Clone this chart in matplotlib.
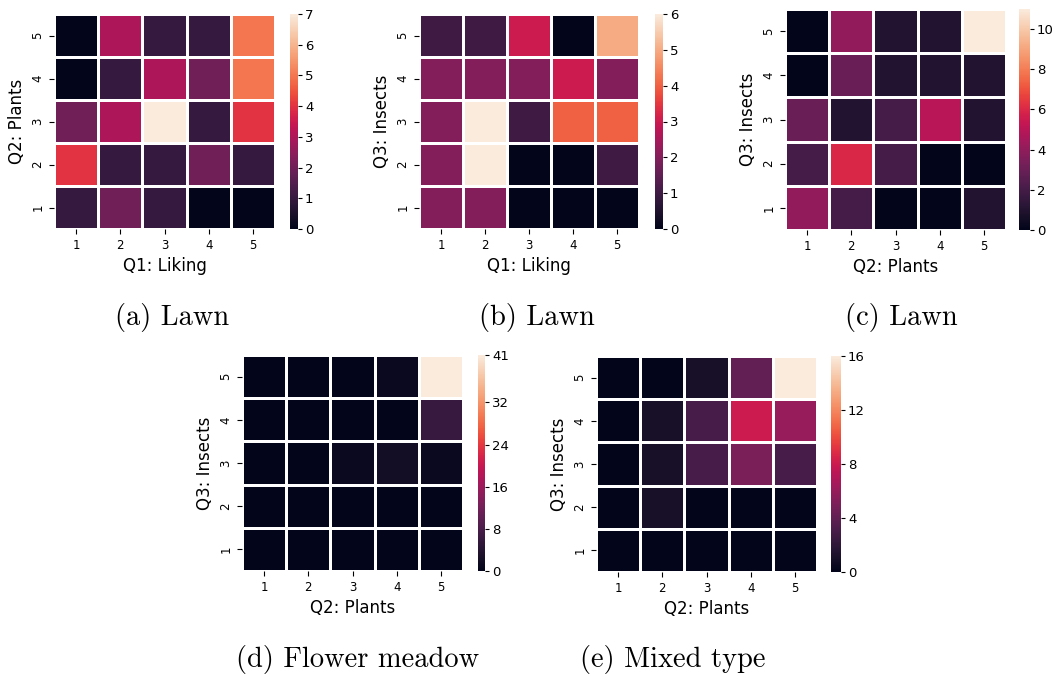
import numpy as np
import matplotlib
matplotlib.use('Agg')
import matplotlib.pyplot as plt
import seaborn as sns

ticks = [1, 2, 3, 4, 5]
rows = [5, 4, 3, 2, 1]  # top to bottom

# (a) Lawn: Q2 Plants vs Q1 Liking
lawn_plants_liking = [
    [0, 3, 1, 1, 5],
    [0, 1, 3, 2, 5],
    [2, 3, 7, 1, 4],
    [4, 1, 1, 2, 1],
    [1, 2, 1, 0, 0],
]
# (b) Lawn: Q3 Insects vs Q1 Liking
lawn_insects_liking = [
    [1, 1, 3, 0, 5],
    [2, 2, 2, 3, 2],
    [2, 6, 1, 4, 4],
    [2, 6, 0, 0, 1],
    [2, 2, 0, 0, 0],
]
# (c) Lawn: Q3 Insects vs Q2 Plants
lawn_insects_plants = [
    [0, 4, 1, 1, 11],
    [0, 3, 1, 1, 1],
    [3, 1, 2, 5, 1],
    [2, 6, 2, 0, 0],
    [4, 2, 0, 0, 1],
]
# (d) Flower meadow
meadow_insects_plants = [
    [0, 0, 0, 1, 41],
    [0, 0, 0, 0, 6],
    [0, 0, 1, 2, 1],
    [0, 0, 0, 0, 0],
    [0, 0, 0, 0, 0],
]
# (e) Mixed type
mixed_insects_plants = [
    [0, 0, 1, 4, 16],
    [0, 1, 3, 8, 6],
    [0, 1, 3, 5, 3],
    [0, 1, 0, 0, 0],
    [0, 0, 0, 0, 0],
]

W, H = 1054, 678
fig = plt.figure(figsize=(W / 100, H / 100), dpi=100)


def px_axes(x0, y0, x1, y1):
    return fig.add_axes([x0 / W, 1 - y1 / H, (x1 - x0) / W, (y1 - y0) / H])


panels = [
    # data, xlabel, ylabel, heatmap box, colorbar box, cbar ticks, caption, caption pos
    (lawn_plants_liking, 'Q1: Liking', 'Q2: Plants',
     (54, 14, 275, 229), (290, 14, 298, 229), [0, 1, 2, 3, 4, 5, 6, 7],
     '(a) Lawn', (172, 317)),
    (lawn_insects_liking, 'Q1: Liking', 'Q3: Insects',
     (419, 14, 639, 229), (655, 14, 663, 229), [0, 1, 2, 3, 4, 5, 6],
     '(b) Lawn', (537, 317)),
    (lawn_insects_plants, 'Q2: Plants', 'Q3: Insects',
     (785, 9, 1006, 230), (1019, 9, 1030, 230), [0, 2, 4, 6, 8, 10],
     '(c) Lawn', (901, 317)),
    (meadow_insects_plants, 'Q2: Plants', 'Q3: Insects',
     (242, 355, 463, 571), (478, 355, 485, 571), [0, 8, 16, 24, 32, 41],
     '(d) Flower meadow', (358, 659)),
    (mixed_insects_plants, 'Q2: Plants', 'Q3: Insects',
     (596, 356, 817, 572), (831, 356, 841, 572), [0, 4, 8, 12, 16],
     '(e) Mixed type', (673, 659)),
]

for data, xlab, ylab, box, cbox, cticks, caption, cpos in panels:
    ax = px_axes(*box)
    cax = px_axes(*cbox)
    arr = np.array(data)
    sns.heatmap(arr, ax=ax, cbar_ax=cax, cmap='rocket', linewidths=0.8,
                linecolor='white', xticklabels=ticks, yticklabels=rows,
                vmin=0, vmax=arr.max())
    ax.set_xlabel(xlab, fontsize=12)
    ax.set_ylabel(ylab, fontsize=12)
    ax.tick_params(labelsize=8.5)
    cax.set_yticks(cticks)
    cax.tick_params(labelsize=9.5, length=3, pad=2)
    fig.text(cpos[0] / W, 1 - cpos[1] / H, caption, family='cmr10',
             fontsize=20.5, ha='center', va='center')

fig.savefig('out.png', dpi=100)
